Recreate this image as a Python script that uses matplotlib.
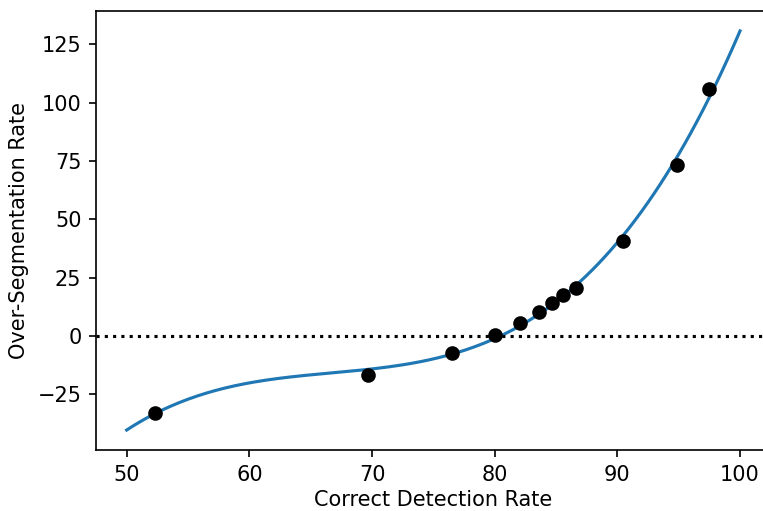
import numpy as np
import matplotlib
matplotlib.use("Agg")
import matplotlib.pyplot as plt

# Data
correct_detection = [52.3, 69.7, 76.5, 80.0, 82.1, 83.6, 84.7, 85.6, 86.6, 90.5, 94.9, 97.5]
over_segmentation = [-33.0, -16.6, -7.2, 0.5, 5.6, 10.4, 14.2, 17.6, 20.6, 40.6, 73.5, 105.8]
fit_degree = 3
curve_x_range = [50, 100]
x_label = "Correct Detection Rate"
y_label = "Over-Segmentation Rate"

DPI = 150
fig = plt.figure(figsize=(763 / DPI, 511 / DPI), dpi=DPI)
ax = fig.add_axes([96 / 763, (511 - 450) / 511, 674.7 / 763, 439 / 511])

coeffs = np.polyfit(correct_detection, over_segmentation, fit_degree)
xs = np.linspace(curve_x_range[0], curve_x_range[1], 200)
ax.plot(xs, np.polyval(coeffs, xs), color="#1f77b4", lw=1.5)
ax.scatter(correct_detection, over_segmentation, color="black", s=36, zorder=3)
ax.axhline(0, color="black", linestyle=":", lw=1.5)

ax.set_xlabel(x_label, labelpad=2.5)
ax.set_ylabel(y_label)
ax.set_yticks([-25, 0, 25, 50, 75, 100, 125])

fig.savefig("out.png", dpi=DPI)
